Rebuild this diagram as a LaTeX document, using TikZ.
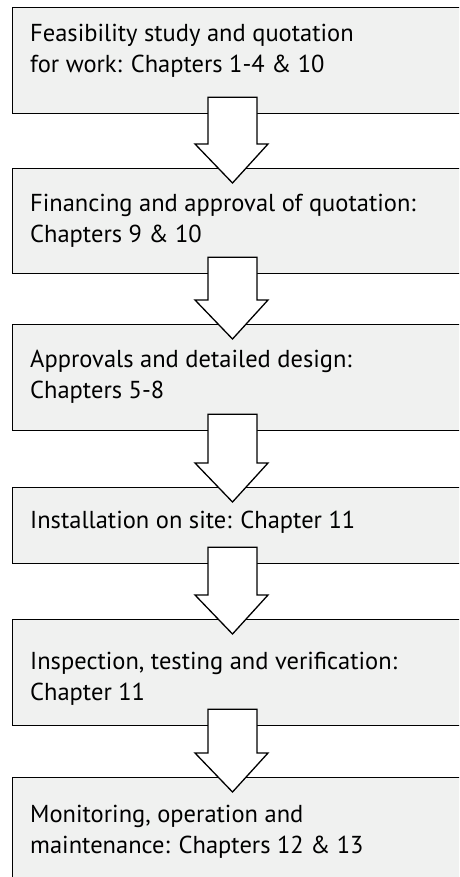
\documentclass[tikz,border=0pt]{standalone}
\usepackage{fontspec}
\setmainfont{PT Sans}
\usetikzlibrary{calc}
\definecolor{boxgray}{RGB}{240,241,240}
\tikzset{
  stage/.style={draw, fill=boxgray, line width=1.3pt, anchor=north west,
    inner sep=0pt, minimum width=470pt},
  stagetext/.style={anchor=base west, inner sep=0pt, align=left,
    font=\fontsize{24.5}{31}\selectfont},
  bigarrow/.style={draw, fill=white, line width=1.3pt, line join=miter}
}
\begin{document}
\begin{tikzpicture}[x=1pt,y=-1pt]
  \useasboundingbox (0,0) rectangle (459,877);
  \clip (0,0) rectangle (459,877);

  % stages
  \node[stage, minimum height=106pt] (feas) at (12,7) {};
  \node[stage, minimum height=105pt] (fin)  at (12,168) {};
  \node[stage, minimum height=106pt] (appr) at (12,324) {};
  \node[stage, minimum height=76pt]  (inst) at (12,487) {};
  \node[stage, minimum height=106pt] (insp) at (12,619) {};
  \node[stage, minimum height=120pt] (mon)  at (12,777) {};

  % texts (base = baseline of the last line)
  \node[stagetext] (feastext) at ([xshift=18pt,yshift=-66pt]feas.north west)
    {Feasibility study and quotation\\for work: Chapters 1-4 \& 10};
  \node[stagetext] (fintext) at ([xshift=18pt,yshift=-74pt]fin.north west)
    {Financing and approval of quotation:\\Chapters 9 \& 10};
  \node[stagetext] (apprtext) at ([xshift=18pt,yshift=-74pt]appr.north west)
    {Approvals and detailed design:\\Chapters 5-8};
  \node[stagetext] (insttext) at ([xshift=18pt,yshift=-41pt]inst.north west)
    {Installation on site: Chapter 11};
  \node[stagetext] (insptext) at ([xshift=18pt,yshift=-81pt]insp.north west)
    {Inspection, testing and verification:\\Chapter 11};
  \node[stagetext] (montext) at ([xshift=18pt,yshift=-76pt]mon.north west)
    {Monitoring, operation and\\maintenance: Chapters 12 \& 13};

  % arrows between stages
  \foreach \a/\b in {feas/fin, fin/appr, appr/inst, inst/insp, insp/mon}
    \draw[bigarrow] let \p1=(\a.south west), \p2=(\b.north west) in
      (\x1+196pt,\y1+17pt) -- (\x1+245pt,\y1+17pt) -- (\x1+245pt,\y2+24pt)
      -- (\x1+256pt,\y2+24pt) -- (\x1+220.5pt,\y2-15pt) -- (\x1+183pt,\y2+24pt)
      -- (\x1+196pt,\y2+24pt) -- cycle;
\end{tikzpicture}
\end{document}
